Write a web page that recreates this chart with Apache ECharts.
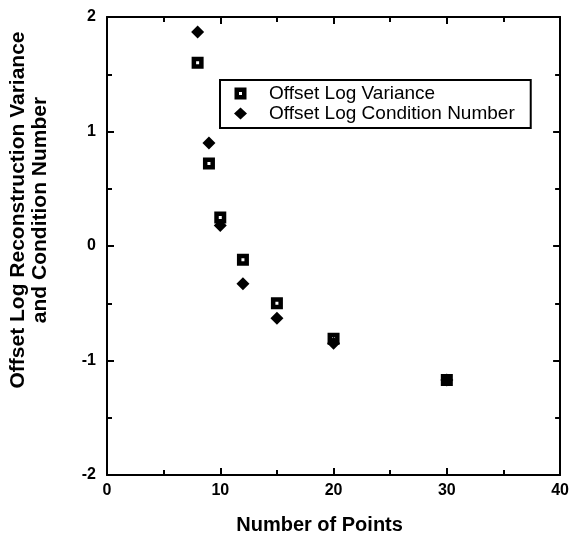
<!DOCTYPE html>
<html>
<head>
<meta charset="utf-8">
<script src="https://cdn.jsdelivr.net/npm/echarts@6/dist/echarts.min.js"></script>
<style>html,body{margin:0;padding:0;background:#fff}#c{width:572px;height:540px}</style>
</head>
<body>
<div id="c"></div>
<script>
const points = [8, 9, 10, 12, 15, 20, 30];
const logVariance = [1.60, 0.72, 0.25, -0.12, -0.50, -0.81, -1.17];
const logCondition = [1.87, 0.90, 0.18, -0.33, -0.63, -0.85, -1.17];
const seriesNames = ['Offset Log Variance', 'Offset Log Condition Number'];
const xTitle = 'Number of Points';
const yTitle = ['Offset Log Reconstruction Variance', 'and Condition Number'];

const font = 'Liberation Sans, Arial, sans-serif';
const squareDot = 'path://M0,0H12V12H0Z M4.5,4.5V7.5H7.5V4.5Z';
const chart = echarts.init(document.getElementById('c'));
const baseAxis = {
  axisLine: {show: true, onZero: false, lineStyle: {color: '#000', width: 2}},
  axisTick: {show: true, inside: true, length: 7, lineStyle: {color: '#000', width: 2}},
  minorTick: {show: true, splitNumber: 2, length: 5, lineStyle: {color: '#000', width: 2}},
  splitLine: {show: false}
};
chart.setOption({
  animation: false,
  backgroundColor: '#fff',
  grid: {left: 107, right: 11, top: 17, bottom: 63},
  xAxis: [
    Object.assign({}, baseAxis, {
      type: 'value', min: 0, max: 40, interval: 10, position: 'bottom',
      axisLabel: {color: '#000', fontSize: 16, fontWeight: 'bold', fontFamily: font, margin: 8},
      name: xTitle, nameLocation: 'middle', nameGap: 40,
      nameTextStyle: {color: '#000', fontSize: 20, fontWeight: 'bold', fontFamily: font, padding: [0, 28, 0, 0]}
    }),
    Object.assign({}, baseAxis, {
      type: 'value', min: 0, max: 40, interval: 10, position: 'top',
      axisLabel: {show: false}
    })
  ],
  yAxis: [
    Object.assign({}, baseAxis, {
      type: 'value', min: -2, max: 2, interval: 1, position: 'left',
      axisLabel: {color: '#000', fontSize: 16, fontWeight: 'bold', fontFamily: font, margin: 11}
    }),
    Object.assign({}, baseAxis, {
      type: 'value', min: -2, max: 2, interval: 1, position: 'right',
      axisLabel: {show: false}
    })
  ],
  legend: {
    orient: 'vertical', left: 220, top: 80,
    padding: [4, 16, 5, 14],
    borderColor: '#000', borderWidth: 2,
    itemGap: 1, itemWidth: 13, itemHeight: 12,
    textStyle: {color: '#000', fontSize: 19, fontFamily: font, padding: [0, 0, 0, 17]},
    data: [
      {name: seriesNames[0], icon: squareDot, itemStyle: {color: '#000', borderWidth: 0}},
      {name: seriesNames[1], icon: 'diamond', itemStyle: {color: '#000', borderWidth: 0}}
    ]
  },
  graphic: [{
    type: 'text', x: 29, y: 210, rotation: Math.PI / 2,
    style: {
      text: yTitle.join('\n'), align: 'center', verticalAlign: 'middle',
      fill: '#000', fontSize: 21, fontWeight: 'bold', fontFamily: font, lineHeight: 22
    }
  }],
  series: [
    {
      name: seriesNames[0], type: 'scatter', symbol: squareDot, symbolSize: 12,
      itemStyle: {color: '#000', opacity: 1},
      data: points.map((p, i) => [p, logVariance[i]])
    },
    {
      name: seriesNames[1], type: 'scatter', symbol: 'diamond', symbolSize: 13,
      itemStyle: {color: '#000', opacity: 1},
      data: points.map((p, i) => [p, logCondition[i]])
    }
  ]
});
</script>
</body>
</html>
